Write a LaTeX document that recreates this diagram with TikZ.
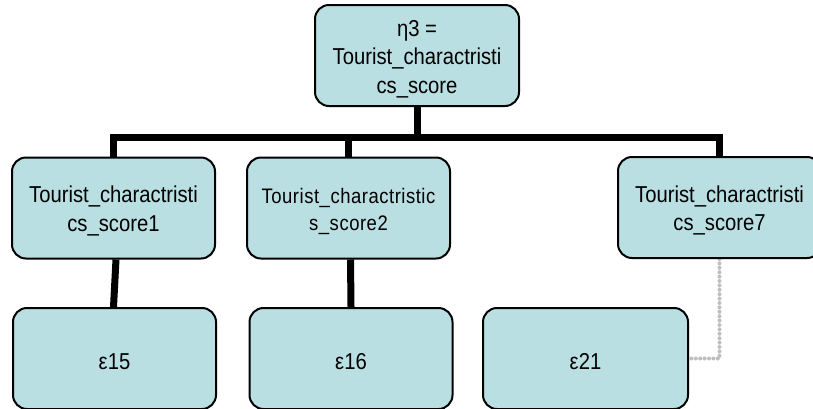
\documentclass[tikz,border=0pt]{standalone}
\usepackage{fontspec}
\setmainfont{Liberation Sans}[FakeStretch=0.88]
\usetikzlibrary{backgrounds}
\definecolor{boxfill}{RGB}{186,223,226}
\definecolor{dotgray}{RGB}{190,190,190}
\begin{document}
\begin{tikzpicture}[x=1pt,y=-1pt,
  box/.style={draw=black, line width=2pt, fill=boxfill, rounded corners=14pt,
    minimum width=203pt, minimum height=101pt, inner sep=0pt},
  txt/.style={inner sep=0pt, align=center, font=\fontsize{23}{28.3}\selectfont},
  conn/.style={line width=7pt, black, line join=miter},
  dotline/.style={line width=4pt, dotgray, line cap=round, dash pattern=on 0pt off 4.4pt}]
\useasboundingbox (0,0) rectangle (813,408);

% hierarchy boxes
\node[box, minimum width=204pt] (top) at (417,55.5) {};
\node[box] (s1) at (113.5,208) {};
\node[box] (s2) at (348.5,208) {};
\node[box] (s7) at (719.5,207.5) {};
\node[box] (e15) at (114.5,358.5) {};
\node[box] (e16) at (351,358.5) {};
\node[box, minimum width=205pt] (e21) at (585.5,358.5) {};

% box captions, set a little below each box centre
\node[txt] (topT) at ([yshift=-3.5pt]top.center) {η3 =\\Tourist\_charactristi\\cs\_score};
\node[txt] (s1T) at ([yshift=-3pt]s1.center) {Tourist\_charactristi\\cs\_score1};
\node[txt, font={\fontsize{21}{27}\selectfont\addfontfeature{LetterSpace=2.5}}] (s2T) at ([yshift=-3pt]s2.center) {Tourist\_charactristic\\s\_score2};
\node[txt] (s7T) at ([yshift=-3pt]s7.center) {Tourist\_charactristi\\cs\_score7};
\node[txt] (e15T) at ([yshift=-3.5pt]e15.center) {ε15};
\node[txt] (e16T) at ([yshift=-3.5pt]e16.center) {ε16};
\node[txt] (e21T) at ([yshift=-3.5pt]e21.center) {ε21};

% connectors behind the boxes
\begin{scope}[on background layer]
  \coordinate (bar) at (0,137);
  \draw[conn] (top.south) -- (top.south |- bar);
  \draw[conn] (s1.north) |- (s7.north |- bar) -- (s7.north);
  \draw[conn] (s2.north) -- (s2.north |- bar);
  \draw[conn] ([xshift=2.5pt]s1.south) -- ([xshift=-1pt]e15.north);
  \draw[conn] ([xshift=2pt]s2.south) -- (e16.north);
  \draw[dotline] (s7.south) |- (e21.east);
\end{scope}
\end{tikzpicture}
\end{document}
